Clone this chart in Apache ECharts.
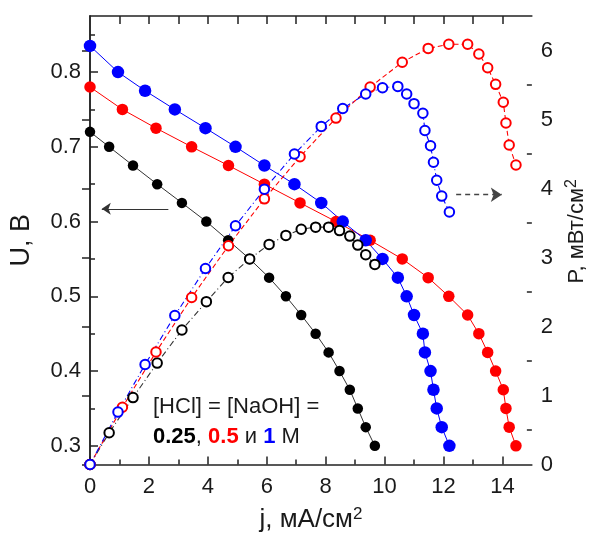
<!DOCTYPE html>
<html>
<head>
<meta charset="utf-8">
<script src="https://cdn.jsdelivr.net/npm/echarts@6/dist/echarts.min.js"></script>
<style>
html,body{margin:0;padding:0;background:#fff;}
#chart{width:596px;height:538px;}
</style>
</head>
<body>
<div id="chart"></div>
<script>
// ---- data ----
// 0.25 M
const jBlack = [0, 0.65, 1.46, 2.28, 3.12, 3.95, 4.69, 5.42, 6.08, 6.65, 7.17, 7.66, 8.10, 8.47, 8.82, 9.09, 9.36, 9.67];
const uBlack = [0.72, 0.70, 0.675, 0.65, 0.625, 0.60, 0.575, 0.55, 0.525, 0.50, 0.475, 0.45, 0.425, 0.40, 0.375, 0.35, 0.325, 0.30];
const pBlack = [0, 0.46, 0.97, 1.47, 1.95, 2.36, 2.71, 2.98, 3.19, 3.32, 3.41, 3.44, 3.44, 3.39, 3.31, 3.18, 3.04, 2.90];
// 0.5 M
const jRed = [0, 1.10, 2.24, 3.45, 4.70, 5.92, 7.13, 8.35, 9.51, 10.6, 11.48, 12.18, 12.82, 13.2, 13.5, 13.77, 14.03, 14.12, 14.23, 14.46];
const uRed = [0.78, 0.75, 0.725, 0.70, 0.675, 0.65, 0.625, 0.60, 0.575, 0.55, 0.525, 0.50, 0.475, 0.45, 0.425, 0.40, 0.375, 0.35, 0.325, 0.30];
const pRed = [0, 0.83, 1.63, 2.42, 3.17, 3.85, 4.46, 5.02, 5.47, 5.83, 6.03, 6.09, 6.09, 5.95, 5.75, 5.51, 5.25, 4.95, 4.63, 4.34];
// 1 M
const jBlue = [0, 0.95, 1.87, 2.88, 3.92, 4.94, 5.92, 6.94, 7.85, 8.58, 9.36, 9.93, 10.45, 10.75, 11.0, 11.3, 11.37, 11.56, 11.66, 11.77, 11.94, 12.2];
const uBlue = [0.835, 0.80, 0.775, 0.75, 0.725, 0.70, 0.675, 0.65, 0.625, 0.60, 0.575, 0.55, 0.525, 0.50, 0.475, 0.45, 0.425, 0.40, 0.375, 0.35, 0.325, 0.30];
const pBlue = [0, 0.76, 1.45, 2.16, 2.84, 3.46, 3.99, 4.50, 4.90, 5.16, 5.37, 5.46, 5.48, 5.37, 5.23, 5.09, 4.84, 4.62, 4.38, 4.12, 3.89, 3.66];

// ticks
const xLabels = [0, 2, 4, 6, 8, 10, 12, 14];
const xMinor = [1, 3, 5, 7, 9, 11, 13];
const xTop = [1, 2, 3, 4, 5, 6, 7, 8, 9, 10, 11, 12, 13, 14];
const uLabels = [0.3, 0.4, 0.5, 0.6, 0.7, 0.8];
const uMinor = [0.35, 0.45, 0.55, 0.65, 0.75, 0.85];
const pLabels = [0, 1, 2, 3, 4, 5, 6];
const pMinor = [0.5, 1.5, 2.5, 3.5, 4.5, 5.5];

// arrow annotations (data space)
const arrowU = [[2.66, 0.617], [0.40, 0.617]];
const arrowP = [[12.43, 3.91], [13.98, 3.91]];

const FONT = 'Liberation Sans, Arial, sans-serif';
const AX = '#222';
const zip = (a, b) => a.map((v, i) => [v, b[i]]);

const lineAx = {show: true, lineStyle: {color: AX, width: 1.5}};
const tickMaj = vals => ({show: true, inside: true, length: 8, customValues: vals, lineStyle: {color: AX, width: 1.5}});
const tickMin = vals => ({show: true, inside: true, length: 5, customValues: vals, lineStyle: {color: AX, width: 1.5}});
const labelStyle = {fontFamily: FONT, fontSize: 22, color: '#1a1a1a'};
const mkName = (size, sup, raise) => ({
  fontFamily: FONT, fontSize: size, color: '#1a1a1a',
  rich: {s: {fontFamily: FONT, fontSize: sup, color: '#1a1a1a', verticalAlign: 'bottom', padding: [0, 0, raise, 0]}}
});

const chart = echarts.init(document.getElementById('chart'), null, {renderer: 'canvas'});

function filled(name, j, u, color, size) {
  return {
    name, type: 'line', xAxisIndex: 0, yAxisIndex: 0,
    data: zip(j, u), symbol: 'circle', symbolSize: size, showSymbol: true,
    lineStyle: {color: color, width: 1}, itemStyle: {color: color},
    silent: true, animation: false
  };
}
function open(name, j, p, color, dash) {
  return {
    name, type: 'line', xAxisIndex: 0, yAxisIndex: 2,
    data: zip(j, p), symbol: 'emptyCircle', symbolSize: 9.5, showSymbol: true,
    lineStyle: {color: color, width: 1.1, type: dash}, itemStyle: {color: color, borderColor: color, borderWidth: 1.9},
    silent: true, animation: false
  };
}

const sBlackF = filled('U 0.25', jBlack, uBlack, '#000000', 10.5);
sBlackF.lineStyle.color = '#333';
sBlackF.markLine = {
  silent: true, animation: false, symbol: ['none', 'arrow'], symbolSize: 9,
  label: {show: false}, lineStyle: {color: '#333', width: 1.2, type: 'solid'},
  data: [[{coord: arrowU[0]}, {coord: arrowU[1]}]]
};
const sRedF = filled('U 0.5', jRed, uRed, '#ff0000', 11.5);
const sBlueF = filled('U 1', jBlue, uBlue, '#0000ff', 12.5);
const sBlackO = open('P 0.25', jBlack, pBlack, '#000000', [6, 3, 1, 3]);
sBlackO.lineStyle.color = '#333';
const sRedO = open('P 0.5', jRed, pRed, '#ff0000', [5, 3]);
const sBlueO = open('P 1', jBlue, pBlue, '#0000ff', [6, 3, 1, 3]);
sBlueO.markLine = {
  silent: true, animation: false, symbol: ['none', 'arrow'], symbolSize: 11,
  label: {show: false}, lineStyle: {color: '#444', width: 1.3, type: [5, 4]},
  data: [[{coord: arrowP[0]}, {coord: arrowP[1]}]]
};

const option = {
  backgroundColor: '#ffffff',
  animation: false,
  grid: {left: 88, right: 57, top: 16, bottom: 72, containLabel: false},
  xAxis: [
    {type: 'value', position: 'bottom', min: 0, max: 15,
     axisLine: lineAx, axisTick: tickMaj(xLabels),
     axisLabel: Object.assign({customValues: xLabels, margin: 11}, labelStyle),
     splitLine: {show: false},
     name: 'j, мА/см{s|2}', nameLocation: 'middle', nameGap: 41, nameTextStyle: mkName(26, 17, 12)},
    {type: 'value', position: 'bottom', min: 0, max: 15,
     axisLine: {show: false}, axisTick: tickMin(xMinor), axisLabel: {show: false}, splitLine: {show: false}},
    {type: 'value', position: 'top', min: 0, max: 15,
     axisLine: lineAx, axisTick: tickMaj(xTop), axisLabel: {show: false}, splitLine: {show: false}}
  ],
  yAxis: [
    {type: 'value', position: 'left', min: 0.275, max: 0.875,
     axisLine: lineAx, axisTick: tickMaj(uLabels),
     axisLabel: Object.assign({customValues: uLabels, margin: 9, formatter: v => Number(v).toFixed(1)}, labelStyle),
     splitLine: {show: false},
     name: 'U, В', nameLocation: 'middle', nameRotate: 90, nameGap: 55, nameTextStyle: mkName(27, 17, 12)},
    {type: 'value', position: 'left', min: 0.275, max: 0.875,
     axisLine: {show: false}, axisTick: tickMin(uMinor), axisLabel: {show: false}, splitLine: {show: false}},
    {type: 'value', position: 'right', min: 0, max: 6.5,
     axisLine: lineAx, axisTick: tickMaj(pLabels),
     axisLabel: Object.assign({customValues: pLabels, margin: 9}, labelStyle),
     splitLine: {show: false},
     name: 'P, мВт/см{s|2}', nameLocation: 'middle', nameRotate: 90, nameGap: 30,
     nameTextStyle: Object.assign(mkName(22, 16, 10), {padding: [0, 0, 0, 18]})},
    {type: 'value', position: 'right', min: 0, max: 6.5,
     axisLine: {show: false}, axisTick: tickMin(pMinor), axisLabel: {show: false}, splitLine: {show: false}}
  ],
  graphic: [{
    type: 'text', left: 153, top: 392, silent: true,
    style: {
      text: '[HCl] = [NaOH] =\n{k|0.25}, {r|0.5} и {b|1} М',
      fontFamily: FONT, fontSize: 22, fill: '#1a1a1a', lineHeight: 30,
      rich: {
        k: {fontFamily: FONT, fontSize: 22, fontWeight: 'bold', fill: '#000000', lineHeight: 30},
        r: {fontFamily: FONT, fontSize: 22, fontWeight: 'bold', fill: '#ff0000', lineHeight: 30},
        b: {fontFamily: FONT, fontSize: 22, fontWeight: 'bold', fill: '#0000ff', lineHeight: 30}
      }
    }
  }],
  series: [sBlackF, sRedF, sBlueF, sBlackO, sRedO, sBlueO]
};
chart.setOption(option);
</script>
</body>
</html>
